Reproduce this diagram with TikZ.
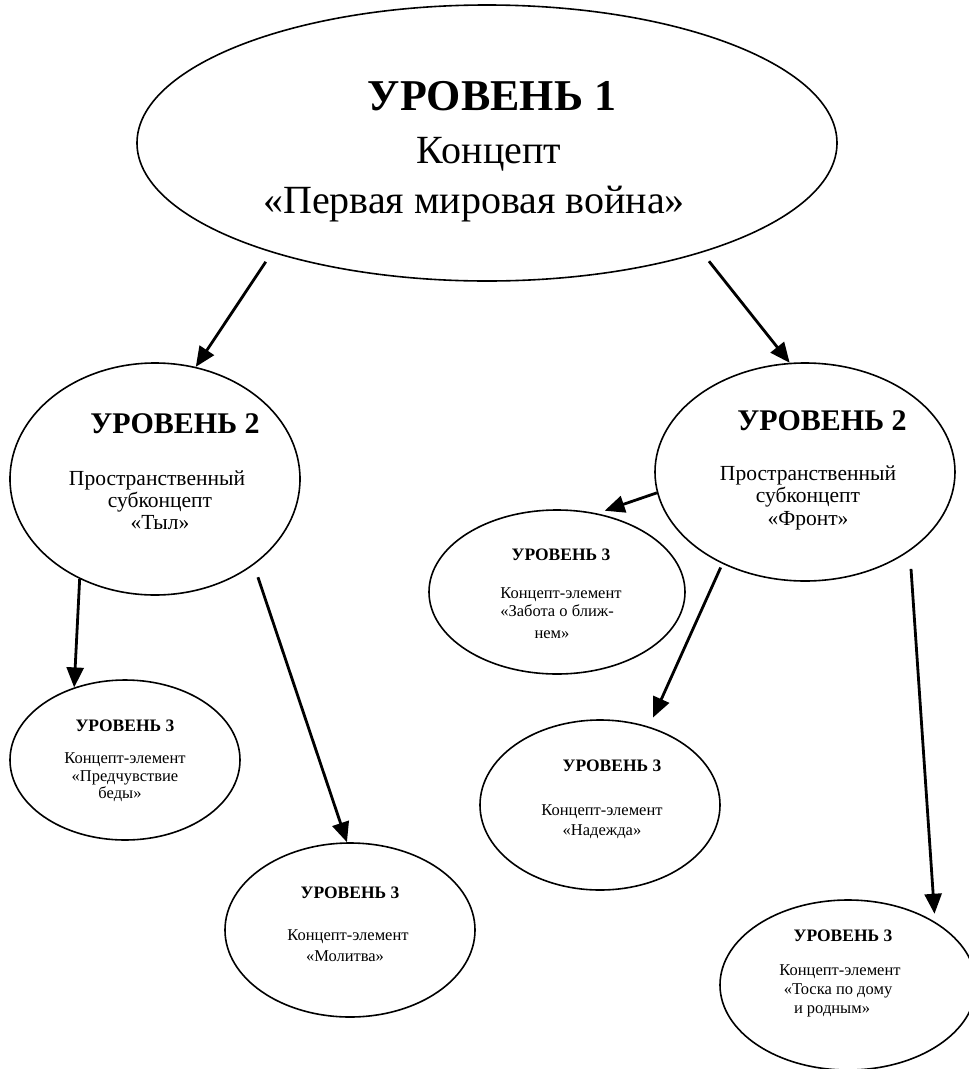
\documentclass[tikz,border=0pt]{standalone}
\usepackage{fontspec}
\setmainfont{Liberation Serif}
\usetikzlibrary{shapes.geometric,arrows.meta}
\tikzset{
  oval/.style={ellipse,draw,line width=1.6pt,inner sep=0pt},
  arr/.style={line width=2.8pt,-{Triangle[length=20pt,width=17pt]}},
  txt/.style={anchor=base,inner sep=0pt},
  tI/.style={txt,font=\fontsize{44}{44}\selectfont\bfseries},
  tIb/.style={txt,font=\fontsize{40}{40}\selectfont},
  tII/.style={txt,font=\fontsize{30}{30}\selectfont\bfseries},
  tIIb/.style={txt,font=\fontsize{21.5}{21.5}\selectfont},
  tIII/.style={txt,font=\fontsize{17.5}{17.5}\selectfont\bfseries},
  tIIIb/.style={txt,font=\fontsize{16.5}{16.5}\selectfont},
}
\begin{document}
\begin{tikzpicture}[x=1pt,y=-1pt]
\useasboundingbox (0,0) rectangle (969,1069);
% ellipses
\node[oval,minimum width=700pt,minimum height=276pt] (top) at (487,143) {};
\node[oval,minimum width=290pt,minimum height=232pt] (l2a) at (155,479) {};
\node[oval,minimum width=300pt,minimum height=218pt] (r2) at (805,472) {};
\node[oval,minimum width=256pt,minimum height=164pt] (z) at (557,592) {};
\node[oval,minimum width=230pt,minimum height=160pt] (p) at (125,760) {};
\node[oval,minimum width=250pt,minimum height=174pt] (m) at (350,930) {};
\node[oval,minimum width=240pt,minimum height=170pt] (n) at (600,805) {};
\node[oval,minimum width=256pt,minimum height=170pt] (t) at (848,985) {};
% texts
\node[tI] (t1a) at (492,110) {УРОВЕНЬ 1};
\node[tIb] (t1b) at (489,163) {Концепт};
\node[tIb] (t1c) at (474,213) {«Первая мировая война»};
\node[tII] (la1) at (175,433) {УРОВЕНЬ 2};
\node[tIIb] (la2) at (157,485) {Пространственный};
\node[tIIb] (la3) at (160,507) {субконцепт};
\node[tIIb] (la4) at (160,529) {«Тыл»};
\node[tII] (ra1) at (822,430) {УРОВЕНЬ 2};
\node[tIIb] (ra2) at (808,480) {Пространственный};
\node[tIIb] (ra3) at (808,502) {субконцепт};
\node[tIIb] (ra4) at (808,525) {«Фронт»};
\node[tIII] (z1) at (561,560) {УРОВЕНЬ 3};
\node[tIIIb] (z2) at (561,598) {Концепт-элемент};
\node[tIIIb] (z3) at (557,616) {«Забота о ближ-};
\node[tIIIb] (z4) at (552,638) {нем»};
\node[tIII] (p1) at (125,731) {УРОВЕНЬ 3};
\node[tIIIb] (p2) at (125,763) {Концепт-элемент};
\node[tIIIb] (p3) at (125,781) {«Предчувствие};
\node[tIIIb] (p4) at (120,798) {беды»};
\node[tIII] (m1) at (350,898) {УРОВЕНЬ 3};
\node[tIIIb] (m2) at (348,940) {Концепт-элемент};
\node[tIIIb] (m3) at (345,961) {«Молитва»};
\node[tIII] (n1) at (612,771) {УРОВЕНЬ 3};
\node[tIIIb] (n2) at (602,815) {Концепт-элемент};
\node[tIIIb] (n3) at (602,835) {«Надежда»};
\node[tIII] (s1) at (843,941) {УРОВЕНЬ 3};
\node[tIIIb] (s2) at (840,975) {Концепт-элемент};
\node[tIIIb] (s3) at (838,994) {«Тоска по дому};
\node[tIIIb] (s4) at (832,1013) {и родным»};
% arrows
\draw[arr,shorten <=11pt] (top.207) -- (l2a.70);
\draw[arr,shorten <=11pt] (top.333) -- (r2.98);
\draw[arr,shorten >=8pt] (r2.188) -- (z.63);
\draw[arr] (l2a.233) -- (p.125);
\draw[arr,shorten <=13pt] (l2a.319) -- (m.92);
\draw[arr,shorten <=4pt,shorten >=10pt] (r2.228) -- (n.58);
\draw[arr,shorten <=18pt,shorten >=8pt] (r2.323) -- (t.36);
\end{tikzpicture}
\end{document}
